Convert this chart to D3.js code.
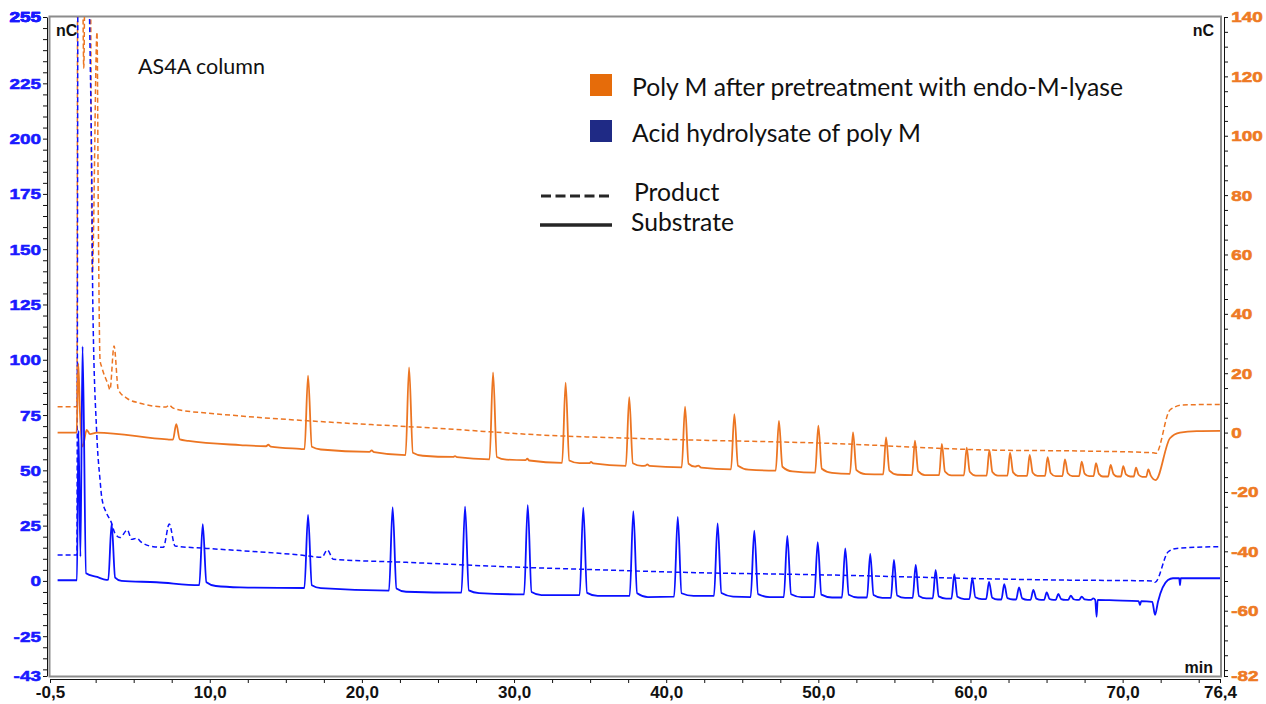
<!DOCTYPE html>
<html>
<head>
<meta charset="utf-8">
<script src="https://cdn.jsdelivr.net/npm/d3@7"></script>
<style>
  body { margin: 0; background: #fff; }
  svg { display: block; }
  .axisBottom text { font-family: "Liberation Sans", Arial, sans-serif; font-weight: bold; font-size: 17px; fill: #111; }
  .unit { font-family: "Liberation Sans", Arial, sans-serif; font-weight: bold; font-size: 16px; fill: #111; }
  .legTxt { font-family: Lato, "Open Sans", sans-serif; font-size: 24.7px; fill: #111; }
</style>
</head>
<body>
<div id="chartHolder"></div>
<script>
// retention time (min) vs signal (nC)
// blue traces -> left axis, orange traces -> right axis

const acidSubstrate = [
  [0.0, 0.3], [1.27, 0.3], [1.37, 68], [1.5, 11], [1.64, 106], [1.87, 3.5], [2.6, 1.8], [3.2, 0.5],
  [3.33, 0.6], [3.55, 26], [3.78, 1.5], [4.2, 0], [6.5, -0.6],
  [9.31, -1.9], [9.54, 25.7], [9.78, -0.6], [10.4, -2.3], [12.0, -2.9],
  [16.22, -3.2], [16.46, 29.8], [16.71, -2], [17.3, -3.3],
  [21.78, -4.4], [22.02, 33.3], [22.27, -3.4], [22.9, -4.9],
  [26.54, -5.3], [26.78, 33.6], [27.03, -4.3], [27.7, -5.5],
  [30.66, -6.1], [30.9, 34.3], [31.15, -5.0], [31.8, -6.4],
  [34.31, -6.4], [34.55, 33.1], [34.8, -5.4], [35.5, -6.8],
  [37.6, -6.8], [37.84, 31.6], [38.09, -5.6], [38.8, -7.3],
  [40.52, -7.1], [40.76, 28.9], [41.01, -5.6], [41.8, -6.8],
  [43.14, -6.8], [43.38, 26.0], [43.63, -5.5], [44.4, -7.1],
  [45.55, -7.3], [45.79, 22.7], [46.04, -6.0], [46.8, -7.3],
  [47.73, -7.3], [47.96, 20.3], [48.21, -6.0], [48.9, -7.3],
  [49.73, -7.3], [49.96, 17.5], [50.2, -6.2], [50.9, -7.5],
  [51.55, -7.5], [51.77, 14.7], [52.0, -6.3], [52.6, -7.5],
  [53.2, -7.5], [53.41, 12.2], [53.63, -6.4], [54.2, -7.7],
  [54.77, -7.7], [54.97, 9.5], [55.18, -6.6], [55.7, -7.7],
  [56.2, -7.7], [56.40, 7.2], [56.61, -6.8], [57.1, -7.9],
  [57.52, -7.9], [57.71, 5.0], [57.91, -7.0], [58.4, -8.0],
  [58.75, -8.0], [58.94, 3.1], [59.14, -7.2], [59.6, -8.2],
  [59.93, -8.2], [60.12, 1.2], [60.32, -7.4], [60.75, -8.2],
  [61.03, -8.2], [61.22, -0.4], [61.43, -7.6], [61.8, -8.4],
  [62.03, -8.4], [62.22, -1.5], [62.43, -7.8], [62.8, -8.4],
  [63.0, -8.4], [63.19, -2.9], [63.4, -7.9], [63.75, -8.6],
  [63.95, -8.6], [64.13, -4.1], [64.33, -8.0], [64.65, -8.6],
  [64.84, -8.6], [65.01, -5.2], [65.2, -8.2], [65.45, -8.6],
  [65.6, -8.6], [65.77, -5.9], [65.96, -8.2], [66.25, -8.6],
  [66.42, -8.6], [66.59, -6.7], [66.78, -8.3], [67.0, -8.6],
  [67.14, -8.6], [67.31, -7.1], [67.5, -8.4], [67.75, -8.6],
  [67.92, -8.6], [68.07, -7.9], [68.2, -8.6], [68.29, -16.2], [68.36, -8.6],
  [69.5, -8.8], [71.05, -9.1], [71.14, -10.9], [71.22, -9.1], [71.95, -9.5], [72.13, -15.4],
  [72.32, -9.5], [72.98, 0.4], [73.31, 1.2], [73.72, 1.2], [73.77, -1.9], [73.82, 1.2], [76.4, 1.2]
];

const acidProduct = [
  [0.0, 11.7], [1.27, 11.7], [1.35, 320], [1.95, 320], [2.1, 255], [2.26, 171], [2.31, 127],
  [2.57, 67], [2.79, 45.6], [2.9, 37.9], [3.22, 30.6], [3.51, 26.8], [3.77, 21.5], [4.1, 19.6],
  [4.58, 23], [4.87, 18.8], [5.2, 19.3], [5.5, 17.5], [6.29, 15.5], [6.95, 15.2], [7.34, 25.7],
  [7.72, 15.8], [9.8, 14.7], [12.0, 13.7], [15.93, 11.7], [17.36, 10.7], [17.73, 14], [18.12, 9.8],
  [22.94, 8.4], [29.52, 6.4], [36.09, 4.9], [40.91, 3.9], [50.55, 2.7], [61.5, 0.9], [65.88, 0.4],
  [72.0, 0], [72.13, -0.6], [73.0, 13.2], [73.55, 14.7], [76.4, 15.5]
];

const lyaseSubstrate = [
  [0.0, 0], [1.25, 0], [1.36, 23.3], [1.47, 6.9], [1.65, -4.7], [1.91, 0.9], [2.13, -0.5], [2.57, 0],
  [7.2, -2.3], [7.58, -2.4], [7.8, 2.8], [8.03, -2.3], [8.6, -2.8], [12.0, -4.2],
  [13.7, -4.6], [13.85, -4.1], [14.0, -4.7], [15.93, -5.5],
  [16.23, -5.6], [16.46, 19.2], [16.71, -4.8], [17.3, -5.7],
  [20.5, -6.5], [20.64, -6.0], [20.8, -6.6],
  [22.87, -7.6], [23.1, 22.0], [23.35, -6.8], [24.0, -7.8],
  [26.0, -8.2], [26.12, -7.9], [26.25, -8.3],
  [28.39, -9.0], [28.62, 20.3], [28.87, -8.2], [29.5, -9.1],
  [30.75, -9.3], [30.87, -8.8], [31.0, -9.4],
  [33.16, -10.2], [33.39, 16.8], [33.63, -9.4], [34.3, -10.3],
  [34.95, -10.3], [35.06, -9.9], [35.2, -10.4],
  [37.35, -11.2], [37.57, 11.9], [37.81, -10.3], [38.4, -11.2],
  [38.65, -11.1], [38.76, -10.7], [38.9, -11.2],
  [41.02, -11.7], [41.24, 8.7], [41.47, -10.5], [41.9, -11.5], [42.11, -11.1], [42.3, -11.8],
  [44.26, -12.4], [44.48, 6.2], [44.72, -11.2], [45.4, -12.5],
  [47.2, -12.8], [47.41, 3.9], [47.64, -11.5], [48.3, -13.1],
  [49.79, -13.5], [50.0, 2.3], [50.23, -12.2], [50.9, -13.6],
  [52.08, -13.9], [52.28, 0.1], [52.5, -12.6], [53.1, -14.0],
  [54.26, -14.1], [54.45, -1.6], [54.67, -12.8], [55.2, -14.2],
  [56.16, -14.3], [56.35, -2.7], [56.56, -13.0], [57.0, -14.3],
  [57.94, -14.3], [58.12, -3.8], [58.32, -13.1], [58.75, -14.4],
  [59.57, -14.4], [59.75, -5.1], [59.95, -13.2], [60.35, -14.5],
  [61.06, -14.5], [61.24, -5.9], [61.44, -13.3], [61.8, -14.5],
  [62.43, -14.5], [62.6, -6.8], [62.8, -13.4], [63.15, -14.6],
  [63.72, -14.6], [63.89, -7.5], [64.09, -13.5], [64.4, -14.6],
  [64.9, -14.6], [65.07, -8.3], [65.27, -13.6], [65.6, -14.7],
  [66.04, -14.7], [66.21, -9.0], [66.4, -13.7], [66.7, -14.7],
  [67.14, -14.7], [67.31, -9.8], [67.5, -13.8], [67.8, -14.7],
  [68.09, -14.7], [68.25, -10.3], [68.44, -13.9], [68.7, -14.8],
  [69.05, -14.8], [69.21, -10.9], [69.4, -14.0], [69.65, -14.8],
  [69.89, -14.8], [70.04, -11.3], [70.22, -14.1], [70.5, -14.8],
  [70.73, -14.8], [70.88, -11.8], [71.05, -14.2], [71.3, -14.9],
  [71.55, -14.9], [71.69, -12.4], [71.85, -14.5], [72.17, -16.0],
  [73.11, -1.9], [73.77, 0], [74.87, 0.5], [76.4, 0.6]
];

const lyaseProduct = [
  [0.0, 8.7], [1.27, 8.7], [1.33, 200], [1.6, 180], [1.72, 122.8], [1.84, 180], [2.12, 180],
  [2.28, 53.8], [2.59, 134.9], [2.68, 70], [2.79, 24.4], [2.9, 22.1], [3.33, 16], [3.44, 14.4],
  [3.71, 29.2], [3.99, 14.4], [4.54, 11.6], [5.42, 9.9], [6.73, 8.7], [7.12, 8.6], [7.34, 9.3],
  [7.52, 8.5], [8.04, 7.6], [9.8, 6.6], [12.0, 5.6], [18.56, 3.3], [25.13, 1.4], [31.7, -0.8],
  [39.59, -2.2], [50.55, -3.6], [61.48, -5.9], [67.2, -6.2], [72.0, -6.8], [72.19, -7.0],
  [73.11, 7.6], [73.96, 9.3], [76.4, 9.5]
];

// axes
const xDomain = [-0.5, 76.4];
const leftDomain = [-43, 255];
const rightDomain = [-82, 140];
const xLabels = [-0.5, 10, 20, 30, 40, 50, 60, 70, 76.4];
const leftLabels = [255, 225, 200, 175, 150, 125, 100, 75, 50, 25, 0, -25, -43];
const rightLabels = [140, 120, 100, 80, 60, 40, 20, 0, -20, -40, -60, -82];

const legendSeries = ["Poly M after pretreatment with endo-M-lyase", "Acid hydrolysate of poly M"];
const legendStyles = ["Product", "Substrate"];

const w = 1266;
const h = 704;
const pl = 50, pr = 1220, pt = 17, pb = 676;

const blue = "#0a10ff";
const orange = "#ec7522";

const svg = d3.select("#chartHolder").append("svg")
  .attr("width", w)
  .attr("height", h);

const xScale = d3.scaleLinear().domain(xDomain).range([pl, pr]);
const yLeft = d3.scaleLinear().domain(leftDomain).range([pb, pt]);
const yRight = d3.scaleLinear().domain(rightDomain).range([pb, pt]);

svg.append("clipPath").attr("id", "plotClip")
  .append("rect")
  .attr("x", pl).attr("y", pt)
  .attr("width", pr - pl).attr("height", pb - pt);

// plot frame
svg.append("rect")
  .attr("x", pl - 0.5).attr("y", pt - 0.5)
  .attr("width", pr - pl + 1.5).attr("height", pb - pt + 1)
  .attr("fill", "none")
  .attr("stroke", "#8c8c8c")
  .attr("stroke-width", 2);

// ticks: labelled ones + minor every 5 (y) / 2.5 (x)
const leftTicks = d3.range(-40, 256, 5).concat([-43, 255]);
const rightTicks = d3.range(-80, 141, 5).concat([-82]);
const xTicks = d3.range(2.5, 76, 2.5).concat([-0.5, 76.4]);

// side labels are bold and a bit stretched sideways, like the original export
function styleSide(sel, col) {
  sel.selectAll("text")
    .style("font-family", "'Liberation Sans', Arial, sans-serif")
    .style("font-weight", "700")
    .style("font-size", "15.5px")
    .style("fill", col)
    .style("stroke", col)
    .style("stroke-width", "0.6px")
    .attr("transform", "scale(1.22,1)");
}

const leftAxis = svg.append("g")
  .attr("transform", "translate(" + (pl - 3) + ",0)")
  .call(d3.axisLeft(yLeft).tickValues(leftTicks).tickSize(4).tickSizeOuter(0).tickPadding(1)
    .tickFormat((d) => leftLabels.includes(d) ? d : ""));
styleSide(leftAxis, "#1a1aff");

const rightAxis = svg.append("g")
  .attr("transform", "translate(" + (pr + 4) + ",0)")
  .call(d3.axisRight(yRight).tickValues(rightTicks).tickSize(4).tickSizeOuter(0).tickPadding(2)
    .tickFormat((d) => rightLabels.includes(d) ? d : ""));
styleSide(rightAxis, "#ee7a24");

svg.append("g")
  .attr("class", "axisBottom")
  .attr("transform", "translate(0," + (pb + 3) + ")")
  .call(d3.axisBottom(xScale).tickValues(xTicks).tickSize(4).tickSizeOuter(0).tickPadding(3)
    .tickFormat((d) => xLabels.includes(d) ? d.toFixed(1).replace(".", ",") : ""));

svg.selectAll(".domain, .tick line").attr("stroke", "#111");

// traces
const traces = [
  { data: lyaseProduct, y: yRight, color: orange, dash: "5,3" },
  { data: acidProduct, y: yLeft, color: blue, dash: "5,3" },
  { data: lyaseSubstrate, y: yRight, color: orange, dash: null },
  { data: acidSubstrate, y: yLeft, color: blue, dash: null }
];

const plotG = svg.append("g").attr("clip-path", "url(#plotClip)");
traces.forEach((t) => {
  const line = d3.line()
    .x((d) => xScale(d[0]))
    .y((d) => t.y(d[1]))
    .curve(d3.curveMonotoneX);
  plotG.append("path")
    .datum(t.data)
    .attr("d", line)
    .attr("fill", "none")
    .attr("stroke", t.color)
    .attr("stroke-width", t.dash ? 1.5 : 1.8)
    .attr("stroke-dasharray", t.dash)
    .attr("stroke-linejoin", "round");
});

// units
svg.append("text").attr("class", "unit").attr("x", 56).attr("y", 36).text("nC");
svg.append("text").attr("class", "unit").attr("x", 1214).attr("y", 36).attr("text-anchor", "end").text("nC");
svg.append("text").attr("class", "unit").attr("x", 1213).attr("y", 673).attr("text-anchor", "end").text("min");

svg.append("text").attr("class", "legTxt")
  .attr("x", 138).attr("y", 74)
  .style("font-size", "21.5px")
  .text("AS4A column");

// legend
const sw = [{ fill: "#e66c0a", y: 74 }, { fill: "#1f2a85", y: 120 }];
sw.forEach((s, i) => {
  svg.append("rect")
    .attr("x", 590).attr("y", s.y)
    .attr("width", 22).attr("height", 22)
    .attr("fill", s.fill);
  svg.append("text").attr("class", "legTxt")
    .attr("x", 632).attr("y", s.y + 21.5)
    .text(legendSeries[i]);
});

svg.append("line")
  .attr("x1", 541).attr("x2", 612).attr("y1", 196).attr("y2", 196)
  .attr("stroke", "#262626").attr("stroke-width", 3)
  .attr("stroke-dasharray", "10,4.5");
svg.append("line")
  .attr("x1", 540).attr("x2", 612).attr("y1", 225).attr("y2", 225)
  .attr("stroke", "#262626").attr("stroke-width", 3.5);
svg.append("text").attr("class", "legTxt").attr("x", 634).attr("y", 201).text(legendStyles[0]);
svg.append("text").attr("class", "legTxt").attr("x", 631).attr("y", 231).text(legendStyles[1]);
</script>
</body>
</html>
